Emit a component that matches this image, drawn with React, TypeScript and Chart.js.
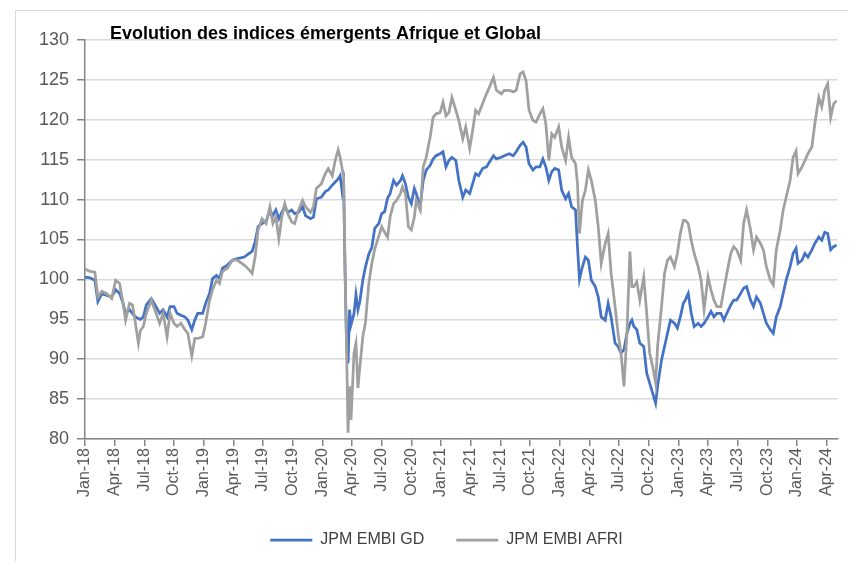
import { useEffect, useRef } from "react";
import { Chart, registerables } from "chart.js";

Chart.register(...registerables);

const FONT = "'Liberation Sans', Arial, sans-serif";
const TITLE = "Evolution des indices émergents Afrique et Global";
const SERIES_NAMES = ["JPM EMBI GD", "JPM EMBI AFRI"];
const BLUE = "#4472C4";
const GRAY = "#A0A0A0";

// x-axis tick labels (every 3 months, starting Jan-18)
const tickLabels = [
  "Jan-18", "Apr-18", "Jul-18", "Oct-18",
  "Jan-19", "Apr-19", "Jul-19", "Oct-19",
  "Jan-20", "Apr-20", "Jul-20", "Oct-20",
  "Jan-21", "Apr-21", "Jul-21", "Oct-21",
  "Jan-22", "Apr-22", "Jul-22", "Oct-22",
  "Jan-23", "Apr-23", "Jul-23", "Oct-23",
  "Jan-24", "Apr-24",
];

// observation dates, in months since 1 Jan 2018
const dates = [
  // 2018
  0, 0.5, 1.0, 1.3, 1.7, 2.2, 2.7, 3.1, 3.5, 3.8, 4.1, 4.5, 4.8, 5.1, 5.4, 5.6, 5.9, 6.2, 6.7, 7.0, 7.55, 7.9, 8.3, 8.6, 9.0, 9.3, 9.7, 10.1, 10.4, 10.8, 11.1, 11.4, 11.9,
  // 2019
  12.2, 12.6, 12.9, 13.3, 13.6, 13.9, 14.4, 14.9, 15.4, 16.1, 16.6, 16.9, 17.2, 17.5, 17.9, 18.3, 18.7, 19.0, 19.3, 19.6, 19.9, 20.2, 20.5, 20.9, 21.2, 21.6, 22.0, 22.3, 22.8, 23.1, 23.4, 23.9,
  // 2020
  24.3, 24.6, 25.0, 25.3, 25.6, 25.8, 26.0, 26.15, 26.3, 26.45, 26.6, 26.75, 26.9, 27.2, 27.4, 27.6, 27.8, 28.1, 28.35, 28.7, 29.0, 29.3, 29.7, 30.0, 30.3, 30.6, 30.85, 31.2, 31.5, 31.9, 32.1, 32.4, 32.7, 33.0, 33.3, 33.5, 33.9, 34.2, 34.5, 34.9, 35.2, 35.5, 35.9,
  // 2021
  36.2, 36.5, 36.8, 37.1, 37.5, 37.8, 38.2, 38.5, 38.9, 39.2, 39.5, 39.8, 40.2, 40.6, 40.9, 41.3, 41.6, 42.1, 42.4, 42.9, 43.3, 43.6, 44.0, 44.3, 44.6, 44.9, 45.3, 45.6, 46.0, 46.3, 46.6, 46.9, 47.2, 47.5, 47.9,
  // 2022
  48.2, 48.6, 48.9, 49.2, 49.6, 49.8, 50.0, 50.3, 50.6, 50.9, 51.2, 51.6, 51.9, 52.2, 52.6, 52.9, 53.2, 53.6, 53.9, 54.2, 54.5, 54.8, 55.1, 55.3, 55.5, 55.8, 56.1, 56.5, 56.8, 57.1, 57.4, 57.7, 57.9, 58.3, 58.6, 58.9, 59.2, 59.6, 59.9,
  // 2023
  60.2, 60.5, 60.7, 61.0, 61.3, 61.6, 62.0, 62.3, 62.6, 63.0, 63.3, 63.6, 63.9, 64.3, 64.6, 64.9, 65.3, 65.6, 65.9, 66.3, 66.6, 66.9, 67.3, 67.6, 67.9, 68.3, 68.6, 68.9, 69.3, 69.6, 69.9, 70.3, 70.6, 70.9, 71.3, 71.6, 71.9,
  // 2024
  72.1, 72.5, 72.8, 73.1, 73.5, 73.8, 74.2, 74.5, 74.8, 75.1, 75.4, 75.7, 76.0,
];

// JPM EMBI GD
const embiGd = [
  100.3, 100.2, 99.9, 97.2, 98.2, 98.0, 97.8, 98.7, 98.25, 97.2, 95.75, 96.2, 95.75, 95.3, 95.1, 95.0, 95.3, 96.8, 97.6, 97.0, 95.75, 96.2, 95.3, 96.6, 96.6, 95.75, 95.5, 95.3, 94.9, 93.7, 94.9, 95.75, 95.75,
  97.0, 98.25, 100.1, 100.5, 100.1, 101.4, 101.8, 102.4, 102.6, 102.8, 103.25, 103.5, 104.7, 106.6, 107.0, 107.2, 108.7, 108.0, 108.7, 107.6, 108.4, 109.1, 108.4, 108.7, 108.25, 108.4, 109.1, 108.0, 107.6, 107.8, 110.1, 110.3,
  111.0, 111.2, 111.8, 112.2, 112.6, 113.0, 111.0, 112.0, 101.0, 92.0, 89.5, 96.2, 94.3, 95.7, 98.1, 96.2, 97.3, 100.0, 101.5, 103.2, 104.0, 106.4, 107.0, 108.25, 108.5, 110.2, 110.75, 112.4, 111.8, 112.4, 113.0, 112.0, 110.3, 109.5, 111.4, 110.75, 109.1, 112.4, 113.7, 114.3, 115.1, 115.5, 115.75,
  116.0, 114.1, 114.9, 115.3, 114.9, 112.4, 110.3, 111.2, 110.75, 112.0, 113.25, 113.0, 113.9, 114.1, 114.7, 115.5, 115.1, 115.3, 115.5, 115.75, 115.5, 116.0, 116.8, 117.2, 116.6, 114.5, 113.7, 114.1, 114.1, 115.1, 114.1, 112.4, 113.5, 113.9, 113.7,
  111.2, 110.1, 110.75, 109.1, 108.7, 104.1, 100.0, 101.6, 102.8, 102.4, 99.9, 99.1, 97.8, 95.3, 94.9, 97.0, 95.3, 92.0, 91.6, 90.75, 91.2, 93.25, 94.5, 94.9, 94.1, 93.7, 92.0, 91.6, 88.25, 87.0, 85.75, 84.5, 86.6, 89.9, 91.6, 93.25, 94.9, 94.5, 93.9,
  95.3, 97.0, 97.4, 98.25, 95.75, 94.1, 94.5, 94.1, 94.5, 95.3, 96.0, 95.3, 95.75, 95.75, 94.9, 95.75, 96.8, 97.4, 97.4, 98.25, 98.9, 99.1, 97.4, 96.6, 97.8, 97.0, 95.75, 94.5, 93.7, 93.25, 95.3, 96.6, 98.25, 99.9, 101.6, 103.25, 103.9,
  102.0, 102.4, 103.25, 102.8, 103.7, 104.5, 105.3, 104.9, 105.9, 105.75, 103.7, 104.1, 104.3,
];

// JPM EMBI AFRI
const embiAfri = [
  101.3, 101.0, 100.9, 97.8, 98.5, 98.2, 97.6, 99.9, 99.5, 97.4, 94.9, 97.0, 96.8, 94.5, 92.0, 93.6, 94.1, 95.75, 97.4, 96.4, 94.5, 95.75, 92.8, 95.75, 94.5, 94.1, 94.5, 93.7, 93.25, 90.4, 92.6, 92.6, 92.8,
  94.5, 97.4, 98.7, 99.9, 99.5, 101.0, 101.4, 102.4, 102.4, 101.8, 101.2, 100.75, 102.8, 106.2, 107.6, 107.0, 109.1, 107.0, 107.8, 105.1, 107.8, 109.5, 108.25, 107.2, 107.0, 108.7, 109.9, 109.1, 108.4, 109.1, 111.4, 112.0,
  113.25, 113.9, 113.0, 114.9, 116.25, 115.3, 113.9, 113.0, 100.75, 91.2, 80.8, 86.6, 82.4, 90.8, 92.0, 86.4, 89.1, 92.9, 94.5, 99.5, 102.0, 103.8, 105.4, 106.6, 105.9, 105.3, 107.8, 109.5, 109.9, 110.75, 111.6, 110.75, 106.6, 106.2, 107.8, 109.9, 108.7, 114.1, 115.3, 117.8, 120.3, 120.75, 120.9,
  122.2, 120.5, 120.9, 122.8, 121.2, 119.9, 117.6, 119.1, 116.4, 118.7, 121.2, 120.75, 122.0, 123.25, 124.1, 125.3, 123.7, 123.25, 123.7, 123.7, 123.5, 123.7, 125.75, 126.0, 124.9, 121.2, 119.9, 119.7, 120.75, 121.4, 119.5, 114.9, 118.25, 117.8, 119.1,
  116.6, 114.9, 117.8, 115.3, 114.5, 112.0, 105.75, 109.9, 111.2, 113.7, 112.4, 109.9, 106.6, 102.0, 104.5, 105.75, 100.75, 96.6, 93.25, 90.75, 86.6, 93.25, 103.5, 99.1, 99.1, 99.7, 97.4, 100.3, 95.75, 90.75, 89.1, 87.0, 91.6, 96.6, 100.75, 102.4, 102.8, 101.6, 103.25,
  105.75, 107.4, 107.4, 107.0, 104.9, 103.25, 101.6, 99.9, 96.2, 100.3, 98.7, 97.4, 96.6, 96.6, 98.7, 100.75, 103.25, 104.1, 103.7, 102.4, 107.0, 108.7, 106.2, 103.7, 105.3, 104.5, 103.7, 101.6, 99.9, 99.3, 103.7, 106.2, 108.7, 110.3, 112.4, 115.3, 116.1,
  113.25, 114.1, 114.9, 115.75, 116.6, 119.5, 122.8, 121.6, 123.7, 124.5, 120.3, 122.0, 122.4,
];

const framePlugin = {
  id: "frame",
  beforeDraw(chart: any) {
    const { ctx, width, height } = chart;
    ctx.save();
    ctx.strokeStyle = "#D9D9D9";
    ctx.lineWidth = 1;
    ctx.beginPath();
    ctx.moveTo(7.5, height);
    ctx.lineTo(7.5, 2.5);
    ctx.lineTo(width, 2.5);
    ctx.stroke();
    ctx.restore();
  },
};

// the reference legend is centred a little to the right of the canvas centre
const legendShiftPlugin = {
  id: "legendShift",
  afterLayout(chart: any) {
    const lg = chart.legend;
    if (lg) {
      lg.left += 17;
      lg.right += 17;
    }
  },
};

const titlePlugin = {
  id: "freeTitle",
  afterDraw(chart: any) {
    const { ctx } = chart;
    ctx.save();
    ctx.font = `bold 18px ${FONT}`;
    ctx.fillStyle = "#000000";
    ctx.textAlign = "left";
    ctx.textBaseline = "alphabetic";
    ctx.fillText(TITLE, 102, 31);
    ctx.restore();
  },
};

export default function App() {
  const ref = useRef<HTMLCanvasElement>(null);

  useEffect(() => {
    const toPoints = (vals: number[]) => dates.map((x, i) => ({ x, y: vals[i] }));
    const chart = new Chart(ref.current as HTMLCanvasElement, {
      type: "line",
      data: {
        datasets: [
          {
            label: SERIES_NAMES[0],
            data: toPoints(embiGd),
            borderColor: BLUE,
            backgroundColor: BLUE,
            borderWidth: 2.75,
            pointRadius: 0,
            tension: 0,
            order: 1,
          },
          {
            label: SERIES_NAMES[1],
            data: toPoints(embiAfri),
            borderColor: GRAY,
            backgroundColor: GRAY,
            borderWidth: 2.75,
            pointRadius: 0,
            tension: 0,
            order: 0,
          },
        ],
      },
      plugins: [framePlugin, legendShiftPlugin, titlePlugin],
      options: {
        responsive: false,
        animation: false,
        layout: { padding: { left: 10, right: 7, top: 32, bottom: 3 } },
        scales: {
          x: {
            type: "linear",
            min: 0,
            max: 76.1,
            afterBuildTicks: (s: any) => {
              s.ticks = tickLabels.map((_, i) => ({ value: i * 3 }));
            },
            afterFit: (s: any) => {
              s.height = 61;
            },
            ticks: {
              autoSkip: false,
              minRotation: 90,
              maxRotation: 90,
              padding: 2,
              color: "#595959",
              font: { family: FONT, size: 16 },
              callback: (v: any) => tickLabels[Math.round(Number(v) / 3)] ?? "",
            },
            grid: {
              drawOnChartArea: false,
              drawTicks: true,
              tickLength: 7,
              color: "#868686",
              lineWidth: 1.5,
            },
            border: { color: "#868686", width: 1.5 },
          },
          y: {
            min: 80,
            max: 130,
            afterFit: (s: any) => {
              s.width = 67;
            },
            ticks: {
              stepSize: 5,
              padding: 8,
              color: "#595959",
              font: { family: FONT, size: 18 },
            },
            grid: {
              color: "#D9D9D9",
              lineWidth: 1.5,
              tickLength: 8,
              tickColor: "#868686",
            },
            border: { color: "#868686", width: 1.5 },
          },
        },
        plugins: {
          title: { display: false },
          tooltip: { enabled: false },
          legend: {
            position: "bottom",
            labels: {
              usePointStyle: true,
              pointStyle: "line",
              pointStyleWidth: 42,
              boxWidth: 42,
              padding: 32,
              color: "#404040",
              font: { family: FONT, size: 16 },
              sort: (a: any, b: any) => a.datasetIndex - b.datasetIndex,
            },
          },
        },
      },
    } as any);
    return () => chart.destroy();
  }, []);

  return <canvas ref={ref} width={840} height={553} style={{ display: "block" }} />;
}
